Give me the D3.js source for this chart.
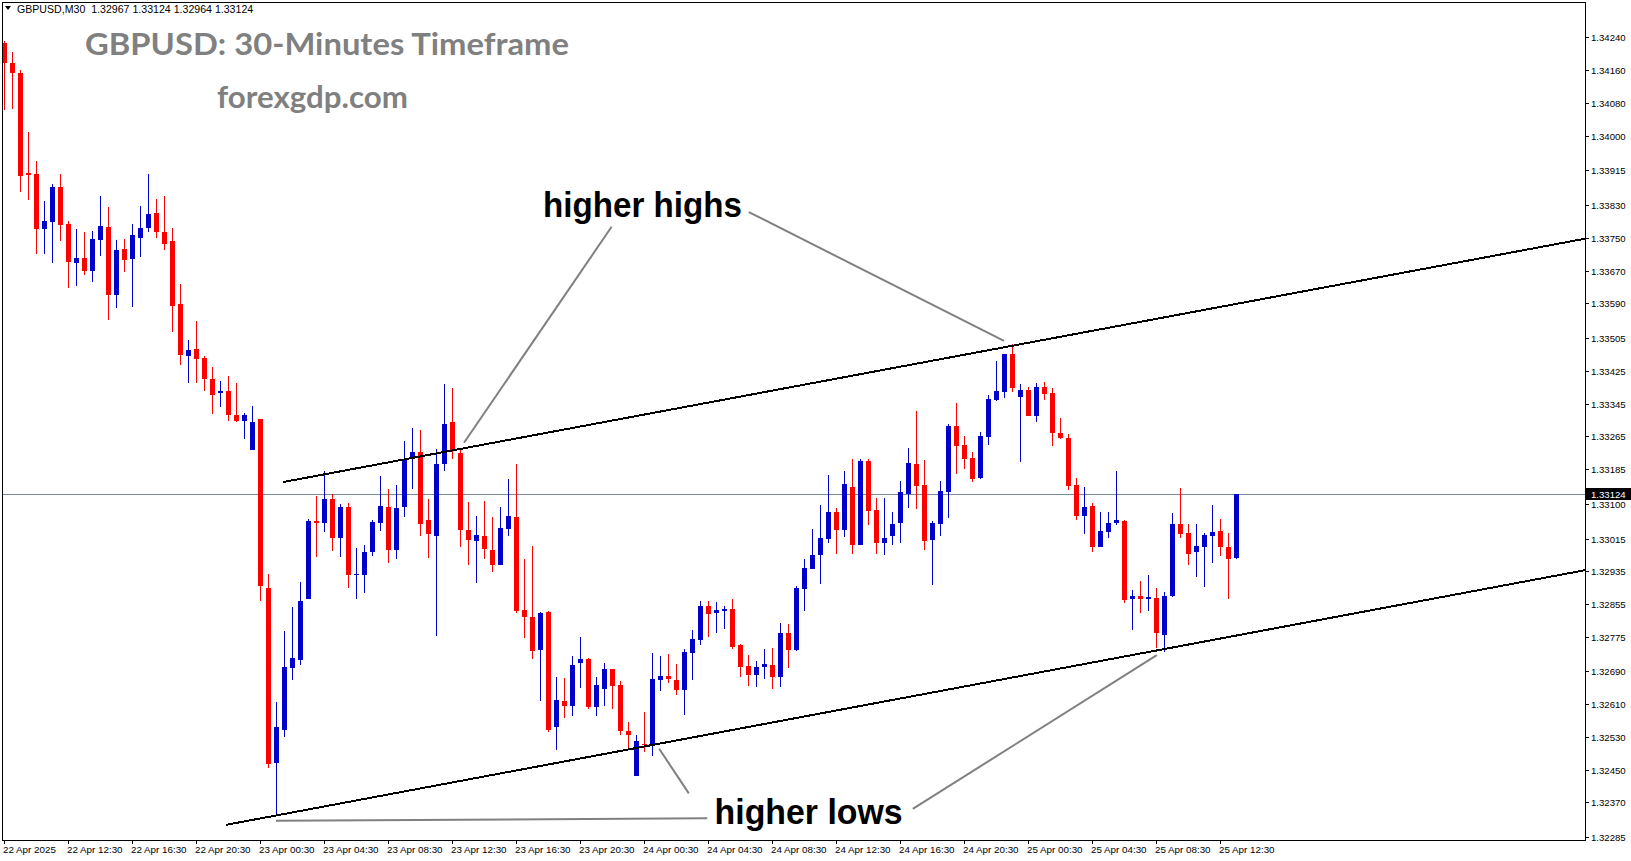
<!DOCTYPE html>
<html><head><meta charset="utf-8">
<script src="https://cdn.jsdelivr.net/npm/d3@7"></script>
<style>html,body{margin:0;padding:0;background:#fff;overflow:hidden}</style>
</head><body>
<svg id="c" width="1631" height="861"></svg>
<script>
// ---- DATA ----
const openP = [1.34226,1.34177,1.34154,1.33908,1.33906,1.33772,1.33789,1.33874,1.33784,1.33689,
1.33701,1.33670,1.33745,1.33777,1.33610,1.33723,1.33699,1.33750,1.33775,1.33811,
1.33765,1.33743,1.33588,1.33462,1.33479,1.33457,1.33406,1.33370,1.33376,1.33317,
1.33303,1.33232,1.33306,1.32893,1.32466,1.32548,1.32698,1.32719,1.32868,1.33058,
1.33052,1.33112,1.33017,1.33091,1.32926,1.32925,1.32981,1.33054,1.33092,1.32987,
1.33091,1.33210,1.33227,1.33060,1.33022,1.33196,1.33300,1.33224,1.33036,1.33010,
1.33021,1.32987,1.32951,1.33039,1.33068,1.32841,1.32823,1.32743,1.32836,1.32553,
1.32619,1.32606,1.32711,1.32721,1.32603,1.32648,1.32695,1.32657,1.32545,1.32435,
1.32513,1.32508,1.32669,1.32679,1.32669,1.32645,1.32736,1.32768,1.32850,1.32832,
1.32839,1.32843,1.32755,1.32704,1.32682,1.32701,1.32706,1.32677,1.32784,1.32743,
1.32892,1.32941,1.32975,1.33014,1.33080,1.33036,1.33141,1.32999,1.33205,1.33085,
1.33005,1.33022,1.33054,1.33124,1.33197,1.33146,1.33012,1.33051,1.33129,1.33290,
1.33244,1.33212,1.33163,1.33264,1.33354,1.33373,1.33466,1.33361,1.33378,1.33315,
1.33386,1.33371,1.33273,1.33261,1.33146,1.33071,1.33095,1.32995,1.33032,1.33054,
1.33059,1.32866,1.32875,1.32868,1.32870,1.32778,1.32874,1.33051,1.33029,1.32981,
1.32995,1.33022,1.33034,1.32995,1.32967];
const highP = [1.34231,1.34204,1.34160,1.34009,1.33938,1.33840,1.33882,1.33906,1.33791,1.33772,
1.33765,1.33767,1.33851,1.33826,1.33745,1.33747,1.33784,1.33829,1.33906,1.33845,
1.33851,1.33774,1.33637,1.33501,1.33547,1.33461,1.33434,1.33401,1.33412,1.33396,
1.33322,1.33339,1.33308,1.32929,1.32616,1.32790,1.32847,1.32908,1.33062,1.33120,
1.33181,1.33124,1.33100,1.33103,1.32992,1.33000,1.33060,1.33168,1.33136,1.33146,
1.33254,1.33285,1.33280,1.33112,1.33233,1.33393,1.33383,1.33236,1.33104,1.33071,
1.33107,1.33068,1.33091,1.33161,1.33197,1.32965,1.32997,1.32836,1.32837,1.32677,
1.32675,1.32728,1.32775,1.32723,1.32677,1.32711,1.32696,1.32667,1.32567,1.32535,
1.32591,1.32735,1.32728,1.32733,1.32709,1.32745,1.32792,1.32862,1.32862,1.32860,
1.32850,1.32867,1.32757,1.32731,1.32716,1.32745,1.32748,1.32809,1.32806,1.32899,
1.32965,1.33039,1.33097,1.33170,1.33090,1.33180,1.33210,1.33210,1.33210,1.33114,
1.33114,1.33080,1.33156,1.33236,1.33327,1.33207,1.33058,1.33156,1.33295,1.33346,
1.33266,1.33227,1.33276,1.33366,1.33449,1.33467,1.33490,1.33393,1.33386,1.33395,
1.33398,1.33383,1.33310,1.33271,1.33163,1.33141,1.33102,1.33080,1.33080,1.33180,
1.33060,1.32889,1.32911,1.32926,1.32895,1.32885,1.33078,1.33139,1.33051,1.33051,
1.33029,1.33097,1.33063,1.33029,1.33124];
const lowP = [1.34062,1.34066,1.33863,1.33843,1.33711,1.33711,1.33689,1.33742,1.33628,1.33631,
1.33659,1.33643,1.33706,1.33550,1.33579,1.33667,1.33582,1.33702,1.33763,1.33750,
1.33719,1.33521,1.33439,1.33396,1.33396,1.33375,1.33320,1.33337,1.33303,1.33300,
1.33259,1.33231,1.32862,1.32454,1.32336,1.32530,1.32668,1.32706,1.32867,1.32971,
1.33032,1.32984,1.32971,1.32893,1.32868,1.32881,1.32972,1.33034,1.32956,1.32965,
1.33068,1.33136,1.33020,1.32968,1.32777,1.33179,1.33210,1.32993,1.32949,1.32907,
1.32965,1.32934,1.32950,1.33022,1.32832,1.32771,1.32720,1.32618,1.32542,1.32498,
1.32577,1.32582,1.32649,1.32599,1.32580,1.32606,1.32599,1.32535,1.32500,1.32434,
1.32494,1.32484,1.32643,1.32663,1.32633,1.32584,1.32669,1.32755,1.32773,1.32785,
1.32795,1.32744,1.32677,1.32655,1.32652,1.32672,1.32648,1.32653,1.32699,1.32739,
1.32839,1.32940,1.32904,1.33004,1.32977,1.33019,1.32977,1.32998,1.33048,1.32977,
1.32975,1.32999,1.33005,1.33090,1.33087,1.32987,1.32902,1.33021,1.33065,1.33173,
1.33185,1.33153,1.33161,1.33244,1.33351,1.33359,1.33373,1.33202,1.33314,1.33300,
1.33354,1.33242,1.33258,1.33134,1.33060,1.33026,1.32981,1.32993,1.33017,1.33047,
1.32858,1.32792,1.32834,1.32838,1.32748,1.32738,1.32873,1.33017,1.32951,1.32922,
1.32897,1.32956,1.32973,1.32868,1.32964];
const closeP = [1.34177,1.34152,1.33902,1.33904,1.33772,1.33791,1.33874,1.33782,1.33692,1.33701,
1.33670,1.33747,1.33779,1.33610,1.33719,1.33696,1.33757,1.33774,1.33809,1.33765,
1.33736,1.33584,1.33464,1.33476,1.33455,1.33404,1.33367,1.33376,1.33316,1.33303,
1.33317,1.33300,1.32900,1.32464,1.32553,1.32700,1.32723,1.32863,1.33059,1.33053,
1.33112,1.33017,1.33091,1.32927,1.32928,1.32982,1.33056,1.33095,1.32987,1.33090,
1.33210,1.33227,1.33051,1.33025,1.33197,1.33295,1.33232,1.33036,1.33012,1.33024,
1.32990,1.32951,1.33041,1.33071,1.32839,1.32822,1.32741,1.32834,1.32547,1.32621,
1.32606,1.32706,1.32721,1.32603,1.32657,1.32696,1.32655,1.32545,1.32535,1.32520,
1.32511,1.32672,1.32679,1.32672,1.32645,1.32738,1.32770,1.32851,1.32830,1.32841,
1.32843,1.32751,1.32700,1.32682,1.32701,1.32709,1.32677,1.32784,1.32743,1.32894,
1.32943,1.32975,1.33016,1.33080,1.33036,1.33148,1.32999,1.33205,1.33082,1.33004,
1.33016,1.33051,1.33129,1.33200,1.33144,1.33010,1.33053,1.33131,1.33290,1.33242,
1.33210,1.33161,1.33266,1.33356,1.33376,1.33466,1.33383,1.33378,1.33315,1.33386,
1.33368,1.33273,1.33261,1.33144,1.33071,1.33092,1.32995,1.33034,1.33053,1.33060,
1.32865,1.32875,1.32868,1.32872,1.32783,1.32875,1.33051,1.33026,1.32978,1.32997,
1.33024,1.33031,1.32993,1.32966,1.33124];
const xTickLabels = ["22 Apr 2025","22 Apr 12:30","22 Apr 16:30","22 Apr 20:30","23 Apr 00:30","23 Apr 04:30",
"23 Apr 08:30","23 Apr 12:30","23 Apr 16:30","23 Apr 20:30","24 Apr 00:30","24 Apr 04:30","24 Apr 08:30",
"24 Apr 12:30","24 Apr 16:30","24 Apr 20:30","25 Apr 00:30","25 Apr 04:30","25 Apr 08:30","25 Apr 12:30"];
const xTickBars = [0,8,16,24,32,40,48,56,64,72,80,88,96,104,112,120,128,136,144,152];
const yTickLabels = ["1.34240","1.34160","1.34080","1.34000","1.33915","1.33830","1.33750","1.33670",
"1.33590","1.33505","1.33425","1.33345","1.33265","1.33185","1.33100","1.33015","1.32935","1.32855",
"1.32775","1.32690","1.32610","1.32530","1.32450","1.32370","1.32285"];
const lastPrice = 1.33124;
const headerText = "GBPUSD,M30  1.32967 1.33124 1.32964 1.33124";
const titleText = "GBPUSD: 30-Minutes Timeframe";
const siteText = "forexgdp.com";
// channel lines: [barIndex, price] anchors (rays to the right)
const upperLine = [[34.9, 1.33153], [126, 1.33486]];
const lowerLine = [[27.75, 1.32315], [144, 1.32741]];
// annotation pointer lines: [barIndex, price] pairs
const pointerLines = [
  [[75.95, 1.33777], [57.5, 1.33249]],
  [[93.1, 1.33813], [125, 1.33498]],
  [[87.9, 1.32331], [34, 1.32325]],
  [[85.6, 1.32392], [81.9, 1.32501]],
  [[113.6, 1.32354], [144.1, 1.32730]]
];

// ---- LAYOUT ----
const svg = d3.select("#c");
const L = 2, T = 3, R = 1585, B = 840;
const x = d3.scaleLinear().domain([0, 154]).range([4, 1236]);
const y = d3.scaleLinear().domain([1.32278, 1.34324]).range([B, T]);

svg.append("defs").append("clipPath").attr("id","plotclip")
  .append("rect").attr("x",L+0.5).attr("y",T+0.5).attr("width",R-L-0.5).attr("height",B-T-0.5);

const g = svg.append("g").attr("clip-path","url(#plotclip)");

// current price line
g.append("line").attr("x1",L).attr("x2",R).attr("y1",Math.round(y(lastPrice))+0.5).attr("y2",Math.round(y(lastPrice))+0.5)
  .attr("stroke","#778899").attr("stroke-width",1).attr("shape-rendering","crispEdges");

// candles
const data = openP.map((o,i)=>({i,o,h:highP[i],l:lowP[i],c:closeP[i]}));
const cg = g.append("g").attr("shape-rendering","crispEdges");
data.forEach(d=>{
  const cx = Math.round(x(d.i));
  const col = d.c >= d.o ? "#0000CD" : "#FF0000";
  const yh = Math.round(y(d.h)), yl = Math.round(y(d.l));
  cg.append("rect").attr("x",cx).attr("y",yh).attr("width",1).attr("height",Math.max(1,yl-yh)).attr("fill",col);
  const yt = Math.round(y(Math.max(d.o,d.c))), yb = Math.round(y(Math.min(d.o,d.c)));
  cg.append("rect").attr("x",cx-2).attr("y",yt).attr("width",5).attr("height",Math.max(1,yb-yt)).attr("fill",col);
});

// channel lines
function ray(a){
  const [i1,p1]=a[0],[i2,p2]=a[1];
  const iEnd = x.invert(R);
  const pEnd = p1 + (p2-p1)/(i2-i1)*(iEnd-i1);
  return [[x(i1),y(p1)],[R,y(pEnd)]];
}
[upperLine, lowerLine].forEach(a=>{
  const p = ray(a);
  g.append("line").attr("x1",p[0][0]).attr("y1",p[0][1]).attr("x2",p[1][0]).attr("y2",p[1][1])
   .attr("stroke","#000").attr("stroke-width",2).attr("shape-rendering","crispEdges");
});

// pointer lines
pointerLines.forEach(a=>{
  svg.append("line").attr("x1",x(a[0][0])).attr("y1",y(a[0][1])).attr("x2",x(a[1][0])).attr("y2",y(a[1][1]))
   .attr("stroke","#808080").attr("stroke-width",2);
});

// frame
svg.append("rect").attr("x",L+0.5).attr("y",T-0.5).attr("width",R-L).attr("height",B-T+0.5)
  .attr("fill","none").attr("stroke","#000").attr("stroke-width",1).attr("shape-rendering","crispEdges");

// y axis ticks and labels
const ya = svg.append("g").attr("font-family","'Liberation Sans',Arial,sans-serif").attr("font-size",9.6).attr("fill","#000");
yTickLabels.forEach(t=>{
  const yy = Math.round(y(+t))+0.5;
  ya.append("line").attr("x1",R).attr("x2",R+4).attr("y1",yy).attr("y2",yy).attr("stroke","#000").attr("shape-rendering","crispEdges");
  ya.append("text").attr("x",R+6).attr("y",yy).attr("dy","0.35em").text(t);
});
// last price label
const ly = Math.round(y(lastPrice));
ya.append("rect").attr("x",R+1).attr("y",ly-6).attr("width",1631-R-1).attr("height",12).attr("fill","#000");
ya.append("text").attr("x",R+6).attr("y",ly+0.5).attr("dy","0.35em").attr("fill","#fff").text(lastPrice.toFixed(5));

// x axis ticks and labels
const xa = svg.append("g").attr("font-family","'Liberation Sans',Arial,sans-serif").attr("font-size",9.8).attr("fill","#000");
xTickBars.forEach((b,k)=>{
  const xx = Math.round(x(b))+0.5;
  xa.append("line").attr("x1",xx).attr("x2",xx).attr("y1",B).attr("y2",B+4).attr("stroke","#000").attr("shape-rendering","crispEdges");
  xa.append("text").attr("x",xx-1.5).attr("y",B+13).text(xTickLabels[k]);
});

// header
svg.append("path").attr("d","M5,6 L11,6 L8,10 Z").attr("fill","#000");
svg.append("text").attr("x",17).attr("y",12.5).attr("font-family","'Liberation Sans',Arial,sans-serif")
  .attr("font-size",10.6).attr("fill","#000").attr("xml:space","preserve").style("white-space","pre").text(headerText);

function fitText(sel, w){
  const cw = sel.node().getComputedTextLength();
  if (Math.abs(cw-w)/w > 0.01) sel.attr("textLength",w).attr("lengthAdjust","spacingAndGlyphs");
}
const title = svg.append("text").attr("x",85).attr("y",54.5).attr("font-family","Lato,'Open Sans',sans-serif")
  .attr("font-weight","bold").attr("font-size",30.5).attr("fill","#808080").text(titleText);
fitText(title, 484);
const site = svg.append("text").attr("x",217).attr("y",108).attr("font-family","Lato,'Open Sans',sans-serif")
  .attr("font-weight","bold").attr("font-size",30.5).attr("fill","#808080").text(siteText);
fitText(site, 191);

const hh = svg.append("text").attr("x",543).attr("y",217).attr("font-family","'Liberation Sans',Arial,sans-serif")
  .attr("font-weight","bold").attr("font-size",35).attr("fill","#000").text("higher highs");
fitText(hh, 199);
const hl = svg.append("text").attr("x",714.6).attr("y",824).attr("font-family","'Liberation Sans',Arial,sans-serif")
  .attr("font-weight","bold").attr("font-size",35).attr("fill","#000").text("higher lows");
fitText(hl, 188);
</script>
</body></html>
